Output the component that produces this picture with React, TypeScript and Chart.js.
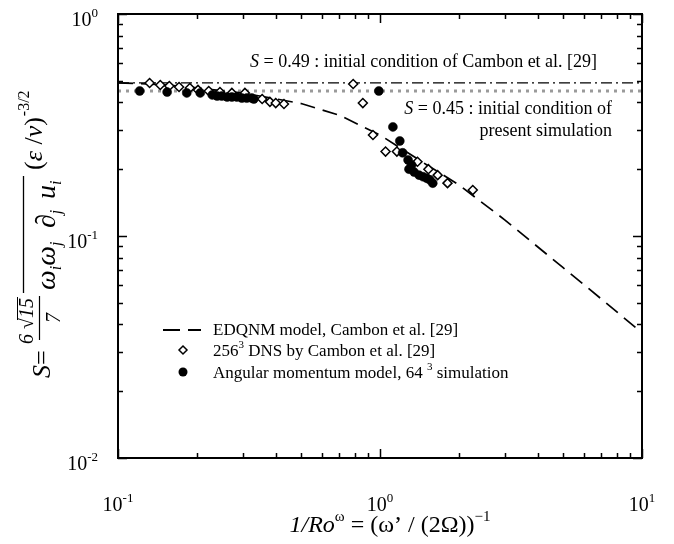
import React, { useEffect, useRef } from 'react';
import { Chart, registerables } from 'chart.js';

Chart.register(...registerables);

// ---- Data ----
const edqnmX = [0.1, 0.15, 0.2, 0.3, 0.4, 0.5, 0.7, 1.0, 1.5, 2.0, 3.0, 5.0, 7.0, 10];
const edqnmY = [0.49, 0.48, 0.465, 0.44, 0.415, 0.395, 0.35, 0.285, 0.21, 0.17, 0.118, 0.072, 0.052, 0.0366];

const dnsX = [0.132, 0.145, 0.157, 0.171, 0.188, 0.202, 0.222, 0.245, 0.272, 0.305, 0.355, 0.38, 0.40, 0.43,
  0.79, 0.86, 0.94, 1.05, 1.16, 1.39, 1.53, 1.66, 1.81, 2.26];
const dnsY = [0.489, 0.479, 0.474, 0.469, 0.464, 0.455, 0.45, 0.445, 0.441, 0.441, 0.414, 0.402, 0.397, 0.393,
  0.484, 0.397, 0.285, 0.240, 0.240, 0.216, 0.200, 0.188, 0.173, 0.161];

const amX = [0.121, 0.154, 0.183, 0.206, 0.229, 0.239, 0.249, 0.261, 0.272, 0.284, 0.297, 0.310, 0.324, 0.330,
  0.99, 1.12, 1.19, 1.22, 1.28, 1.32, 1.29, 1.35, 1.41, 1.46, 1.51, 1.55, 1.59];
const amY = [0.45, 0.445, 0.441, 0.441, 0.432, 0.427, 0.427, 0.423, 0.423, 0.423, 0.418, 0.418, 0.418, 0.414,
  0.45, 0.31, 0.268, 0.237, 0.22, 0.209, 0.200, 0.194, 0.188, 0.185, 0.182, 0.179, 0.173];

const cambonInitS = 0.49;
const presentInitS = 0.45;
const xRange = [0.1, 10];
const yRange = [0.01, 1];

const xMajorTicks = [0.1, 1, 10];
const xTickExponents = ['-1', '0', '1'];
const yMajorTicks = [0.01, 0.1, 1];
const yTickExponents = ['-2', '-1', '0'];
const minorMultipliers = [2, 3, 4, 5, 6, 7, 8, 9];

const legendLabels = ['EDQNM model, Cambon et al. [29]', 'DNS by Cambon et al. [29]', 'Angular momentum model, 64'];

const SERIF = '"Liberation Serif", "Times New Roman", serif';
const f = (size: number, italic = false) => `${italic ? 'italic ' : ''}${size}px ${SERIF}`;

type Part = { t: string; font: string; dy?: number };

function measureParts(ctx: CanvasRenderingContext2D, parts: Part[]) {
  let w = 0;
  for (const p of parts) {
    ctx.font = p.font;
    w += ctx.measureText(p.t).width;
  }
  return w;
}

function drawParts(ctx: CanvasRenderingContext2D, parts: Part[], x: number, y: number) {
  let cx = x;
  for (const p of parts) {
    ctx.font = p.font;
    ctx.fillText(p.t, cx, y + (p.dy || 0));
    cx += ctx.measureText(p.t).width;
  }
  return cx;
}

const toXY = (xs: number[], ys: number[]) => xs.map((x, i) => ({ x, y: ys[i] }));

const decorPlugin = {
  id: 'decor',
  afterDraw(chart: any) {
    const ctx: CanvasRenderingContext2D = chart.ctx;
    const xs = chart.scales.x;
    const ys = chart.scales.y;
    const a = chart.chartArea;
    ctx.save();
    ctx.fillStyle = '#000';
    ctx.strokeStyle = '#000';
    ctx.textAlign = 'left';
    ctx.textBaseline = 'alphabetic';

    // frame
    ctx.lineWidth = 2;
    ctx.setLineDash([]);
    ctx.strokeRect(a.left, a.top, a.right - a.left, a.bottom - a.top);

    // ticks (inward, all sides)
    ctx.lineWidth = 1.5;
    const majorLen = 9;
    const minorLen = 5;
    const xTicks: [number, boolean][] = [];
    xMajorTicks.forEach((v, i) => {
      xTicks.push([v, true]);
      if (i < xMajorTicks.length - 1) minorMultipliers.forEach((m) => xTicks.push([v * m, false]));
    });
    const yTicks: [number, boolean][] = [];
    yMajorTicks.forEach((v, i) => {
      yTicks.push([v, true]);
      if (i < yMajorTicks.length - 1) minorMultipliers.forEach((m) => yTicks.push([v * m, false]));
    });
    ctx.beginPath();
    for (const [v, major] of xTicks) {
      const px = Math.round(xs.getPixelForValue(v)) + 0.5;
      const len = major ? majorLen : minorLen;
      ctx.moveTo(px, a.bottom);
      ctx.lineTo(px, a.bottom - len);
      ctx.moveTo(px, a.top);
      ctx.lineTo(px, a.top + len);
    }
    for (const [v, major] of yTicks) {
      const py = Math.round(ys.getPixelForValue(v)) + 0.5;
      const len = major ? majorLen : minorLen;
      ctx.moveTo(a.left, py);
      ctx.lineTo(a.left + len, py);
      ctx.moveTo(a.right, py);
      ctx.lineTo(a.right - len, py);
    }
    ctx.stroke();

    // tick labels
    xMajorTicks.forEach((v, i) => {
      const parts: Part[] = [
        { t: '10', font: f(20) },
        { t: xTickExponents[i], font: f(13), dy: -9 },
      ];
      const w = measureParts(ctx, parts);
      drawParts(ctx, parts, xs.getPixelForValue(v) - w / 2, 511);
    });
    yMajorTicks.forEach((v, i) => {
      const parts: Part[] = [
        { t: '10', font: f(20) },
        { t: yTickExponents[i], font: f(13), dy: -9 },
      ];
      const w = measureParts(ctx, parts);
      drawParts(ctx, parts, 98 - w, ys.getPixelForValue(v) + 12);
    });

    // x axis title
    const xt: Part[] = [
      { t: '1/Ro', font: f(24, true) },
      { t: 'ω', font: f(15), dy: -11 },
      { t: ' = (ω’ / (2Ω))', font: f(24) },
      { t: '−1', font: f(15), dy: -11 },
    ];
    const xtw = measureParts(ctx, xt);
    drawParts(ctx, xt, 390 - xtw / 2, 532);

    // y axis title (rotated)
    ctx.save();
    ctx.translate(0, 380);
    ctx.rotate(-Math.PI / 2);
    drawParts(ctx, [
      { t: 'S', font: f(26, true) },
      { t: '=', font: f(26) },
    ], 2, 50);
    // fraction 6√15 / 7
    const numEnd = drawParts(ctx, [
      { t: '6', font: f(20, true) },
      { t: ' √', font: f(20) },
    ], 36, 33);
    ctx.font = f(20, true);
    const w15 = ctx.measureText('15').width;
    ctx.fillText('15', numEnd, 33);
    ctx.lineWidth = 1;
    ctx.beginPath();
    ctx.moveTo(numEnd - 2, 17.5);
    ctx.lineTo(numEnd + w15 + 1, 17.5);
    ctx.stroke();
    ctx.lineWidth = 1.2;
    ctx.beginPath();
    ctx.moveTo(40, 39.5);
    ctx.lineTo(numEnd + w15 + 2, 39.5);
    ctx.stroke();
    ctx.font = f(20, true);
    const w7 = ctx.measureText('7').width;
    ctx.fillText('7', (40 + numEnd + w15 + 2) / 2 - w7 / 2, 60);
    // overlined correlation term
    drawParts(ctx, [
      { t: 'ω', font: f(28, true) },
      { t: 'i', font: f(16, true), dy: 6 },
      { t: 'ω', font: f(28, true) },
      { t: 'j', font: f(16, true), dy: 6 },
    ], 90, 55);
    drawParts(ctx, [
      { t: '∂', font: f(28, true) },
      { t: 'j', font: f(16, true), dy: 6 },
    ], 152, 55);
    drawParts(ctx, [
      { t: 'u', font: f(28, true) },
      { t: 'i', font: f(16, true), dy: 6 },
    ], 181, 55);
    ctx.lineWidth = 1.3;
    ctx.beginPath();
    ctx.moveTo(87, 23.5);
    ctx.lineTo(204, 23.5);
    ctx.stroke();
    const pe = drawParts(ctx, [
      { t: '(', font: f(26) },
      { t: 'ε', font: f(26, true) },
      { t: ' /', font: f(26) },
      { t: 'ν', font: f(26, true) },
      { t: ')', font: f(26) },
    ], 210, 42);
    drawParts(ctx, [{ t: '-3/2', font: f(16) }], pe + 1, 29);
    ctx.restore();

    // annotations
    ctx.fillStyle = '#000';
    drawParts(ctx, [
      { t: 'S', font: f(18, true) },
      { t: ' = 0.49 : initial condition of Cambon et al. [29]', font: f(18) },
    ], 250, 67);
    const l1: Part[] = [
      { t: 'S', font: f(18, true) },
      { t: ' = 0.45 : initial condition of', font: f(18) },
    ];
    drawParts(ctx, l1, 612 - measureParts(ctx, l1), 114);
    const l2: Part[] = [{ t: 'present simulation', font: f(18) }];
    drawParts(ctx, l2, 612 - measureParts(ctx, l2), 136);

    // legend
    const lx = 213;
    const base = [335, 356, 378];
    ctx.lineWidth = 1.8;
    ctx.setLineDash([17, 8]);
    ctx.beginPath();
    ctx.moveTo(163, 330);
    ctx.lineTo(201, 330);
    ctx.stroke();
    ctx.setLineDash([]);
    drawParts(ctx, [{ t: legendLabels[0], font: f(17) }], lx, base[0]);
    // diamond marker
    ctx.lineWidth = 1.5;
    ctx.fillStyle = '#fff';
    ctx.beginPath();
    const dx = 183, dy = 350, r = 4;
    ctx.moveTo(dx, dy - r);
    ctx.lineTo(dx + r, dy);
    ctx.lineTo(dx, dy + r);
    ctx.lineTo(dx - r, dy);
    ctx.closePath();
    ctx.fill();
    ctx.stroke();
    ctx.fillStyle = '#000';
    drawParts(ctx, [
      { t: '256', font: f(17) },
      { t: '3', font: f(11), dy: -8 },
      { t: ' ' + legendLabels[1], font: f(17) },
    ], lx, base[1]);
    ctx.beginPath();
    ctx.arc(183, 372, 4.5, 0, Math.PI * 2);
    ctx.fill();
    drawParts(ctx, [
      { t: legendLabels[2] + ' ', font: f(17) },
      { t: '3', font: f(11), dy: -8 },
      { t: ' simulation', font: f(17) },
    ], lx, base[2]);

    ctx.restore();
  },
};

export default function App() {
  const ref = useRef<HTMLCanvasElement | null>(null);
  useEffect(() => {
    if (!ref.current) return;
    const chart = new Chart(ref.current, {
      type: 'scatter',
      data: {
        datasets: [
          {
            label: 'Angular momentum model',
            data: toXY(amX, amY),
            pointStyle: 'circle',
            pointRadius: 4.5,
            backgroundColor: '#000',
            borderColor: '#000',
            borderWidth: 0.5,
            order: 1,
          } as any,
          {
            label: 'DNS',
            data: toXY(dnsX, dnsY),
            pointStyle: 'rectRot',
            pointRadius: 4.5,
            backgroundColor: '#fff',
            borderColor: '#000',
            borderWidth: 1.5,
            order: 2,
          },
          {
            label: 'EDQNM',
            data: toXY(edqnmX, edqnmY),
            showLine: true,
            pointRadius: 0,
            borderColor: '#000',
            borderWidth: 1.7,
            borderDash: [15, 8],
            fill: false,
            order: 3,
          },
          {
            label: 'S=0.49',
            data: toXY(xRange, [cambonInitS, cambonInitS]),
            showLine: true,
            pointRadius: 0,
            borderColor: '#000',
            borderWidth: 1.2,
            borderDash: [11, 4, 2, 4],
            fill: false,
            order: 4,
          },
          {
            label: 'S=0.45',
            data: toXY(xRange, [presentInitS, presentInitS]),
            showLine: true,
            pointRadius: 0,
            borderColor: '#9a9a9a',
            borderWidth: 3,
            borderDash: [3, 5],
            fill: false,
            order: 5,
          },
        ],
      },
      options: {
        responsive: false,
        animation: false,
        events: [],
        layout: { padding: { left: 118, right: 32, top: 14, bottom: 86 } },
        plugins: { legend: { display: false }, tooltip: { enabled: false } },
        scales: {
          x: { type: 'logarithmic', min: xRange[0], max: xRange[1], display: false },
          y: { type: 'logarithmic', min: yRange[0], max: yRange[1], display: false },
        },
      },
      plugins: [decorPlugin],
    });
    return () => chart.destroy();
  }, []);
  return (
    <div style={{ position: 'absolute', left: 0, top: 0, width: 674, height: 544, background: '#fff' }}>
      <canvas ref={ref} width={674} height={544} style={{ display: 'block' }} />
    </div>
  );
}
